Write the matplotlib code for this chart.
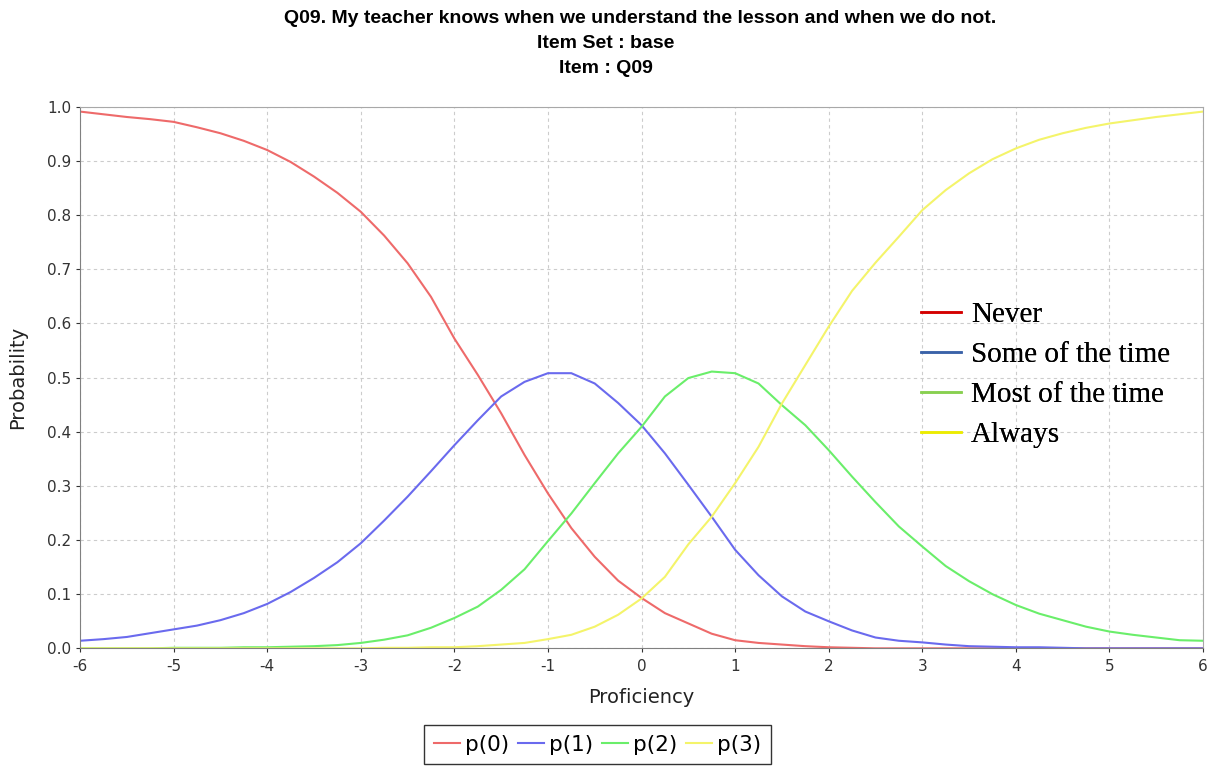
import matplotlib
matplotlib.use("Agg")
import matplotlib.pyplot as plt
from matplotlib.lines import Line2D

plt.rcParams['font.family'] = ['DejaVu Sans']
plt.rcParams['axes.unicode_minus'] = False

# category response curves for item Q09, sampled every 0.25 logits
theta = [-6, -5.75, -5.5, -5.25, -5, -4.75, -4.5, -4.25, -4, -3.75, -3.5, -3.25,
         -3, -2.75, -2.5, -2.25, -2, -1.75, -1.5, -1.25, -1, -0.75, -0.5, -0.25,
         0, 0.25, 0.5, 0.75, 1, 1.25, 1.5, 1.75, 2, 2.25, 2.5, 2.75, 3, 3.25,
         3.5, 3.75, 4, 4.25, 4.5, 4.75, 5, 5.25, 5.5, 5.75, 6]

p0 = [0.991, 0.986, 0.981, 0.977, 0.972, 0.962, 0.951, 0.937, 0.920, 0.898,
      0.871, 0.841, 0.806, 0.762, 0.711, 0.649, 0.572, 0.505, 0.434, 0.357,
      0.286, 0.222, 0.169, 0.125, 0.093, 0.065, 0.046, 0.027, 0.015, 0.010,
      0.007, 0.004, 0.002, 0.001, 0.0, 0.0, 0.0, 0.0, 0.0, 0.0, 0.0, 0.0,
      0.0, 0.0, 0.0, 0.0, 0.0, 0.0, 0.0]

p1 = [0.014, 0.017, 0.021, 0.028, 0.035, 0.042, 0.052, 0.065, 0.082, 0.104,
      0.130, 0.159, 0.194, 0.236, 0.280, 0.327, 0.375, 0.421, 0.465, 0.492,
      0.508, 0.508, 0.489, 0.453, 0.412, 0.360, 0.302, 0.243, 0.182, 0.135,
      0.096, 0.068, 0.050, 0.033, 0.020, 0.014, 0.011, 0.007, 0.004, 0.003,
      0.002, 0.002, 0.001, 0.0, 0.0, 0.0, 0.0, 0.0, 0.0]

p2 = [0.0, 0.0, 0.0, 0.0, 0.001, 0.001, 0.001, 0.002, 0.002, 0.003,
      0.004, 0.006, 0.010, 0.016, 0.024, 0.038, 0.056, 0.077, 0.108, 0.146,
      0.198, 0.249, 0.305, 0.360, 0.409, 0.465, 0.499, 0.511, 0.508, 0.489,
      0.449, 0.412, 0.366, 0.317, 0.270, 0.225, 0.188, 0.152, 0.124, 0.100,
      0.080, 0.064, 0.052, 0.040, 0.031, 0.025, 0.020, 0.015, 0.014]

p3 = [0.0, 0.0, 0.0, 0.0, 0.0, 0.0, 0.0, 0.0, 0.0, 0.0,
      0.0, 0.0, 0.0, 0.001, 0.001, 0.002, 0.002, 0.004, 0.007, 0.010,
      0.017, 0.025, 0.040, 0.062, 0.092, 0.132, 0.192, 0.243, 0.305, 0.372,
      0.452, 0.523, 0.594, 0.660, 0.712, 0.760, 0.809, 0.846, 0.877, 0.903,
      0.923, 0.939, 0.951, 0.961, 0.969, 0.975, 0.981, 0.986, 0.991]

series_names = ["p(0)", "p(1)", "p(2)", "p(3)"]
series_colors = ["#ee6a6a", "#6a6aee", "#6aee6a", "#f4f46a"]
category_names = ["Never", "Some of the time", "Most of the time", "Always"]
category_colors = ["#d40000", "#3a62a8", "#88d050", "#ecec00"]

title_lines = ["Q09. My teacher knows when we understand the lesson and when we do not.",
               "Item Set : base",
               "Item : Q09"]

x_ticks = [-6, -5, -4, -3, -2, -1, 0, 1, 2, 3, 4, 5, 6]
y_ticks = [0.0, 0.1, 0.2, 0.3, 0.4, 0.5, 0.6, 0.7, 0.8, 0.9, 1.0]

fig = plt.figure(figsize=(12.11, 7.66), dpi=100)
ax = fig.add_axes([0.0661, 0.1536, 0.9273, 0.7071])

lines = []
for vals, name, col in zip([p0, p1, p2, p3], series_names, series_colors):
    ln, = ax.plot(theta, vals, color=col, lw=1.5, label=name)
    lines.append(ln)

ax.set_xlim(-6, 6)
ax.set_ylim(0, 1)
ax.set_xticks(x_ticks)
ax.set_xticklabels([str(t) for t in x_ticks])
ax.set_yticks(y_ticks)
ax.set_yticklabels(["%.1f" % t for t in y_ticks])
ax.tick_params(labelsize=11, colors="#333333", length=3, width=0.8)
ax.tick_params(axis='x', pad=5)

ax.grid(True, color="#cccccc", linestyle=(0, (3, 3)), lw=0.8)
ax.set_axisbelow(True)
for s in ax.spines.values():
    s.set_color("#a8a8a8")
ax.spines['left'].set_color("#808080")
ax.spines['bottom'].set_color("#808080")

ax.set_xlabel("Proficiency", fontsize=14, color="#222222", labelpad=10)
ax.set_ylabel("Probability", fontsize=14, color="#222222", labelpad=14)

title_x = [0.5285, 0.5, 0.5]
title_y = [0.9765, 0.9426, 0.9112]
for txt, tx, ty in zip(title_lines, title_x, title_y):
    fig.text(tx, ty, txt, ha="center", va="center", fontsize=14,
             fontweight="bold", family="Liberation Sans")

# series legend in a box under the plot
leg = fig.legend(handles=lines, loc="upper center", bbox_to_anchor=(0.4934, 0.0535),
                 ncol=4, fontsize=15.5, frameon=True, fancybox=False,
                 handlelength=1.2, handletextpad=0.25, columnspacing=0.4,
                 borderpad=0.45, borderaxespad=0, edgecolor="black")
leg.get_frame().set_linewidth(1.0)

# category names drawn inside the plot area
cat_handles = [Line2D([0], [0], color=c, lw=1.8) for c in category_colors]
leg2 = ax.legend(cat_handles, category_names, loc="upper left",
                 bbox_to_anchor=(0.749, 0.6396), frameon=False,
                 prop={"family": "Liberation Serif", "size": 21},
                 handlelength=1.35, handletextpad=0.35, labelspacing=0.46,
                 borderaxespad=0, borderpad=0)
ax.add_artist(leg2)

fig.savefig("out.png", dpi=100)
